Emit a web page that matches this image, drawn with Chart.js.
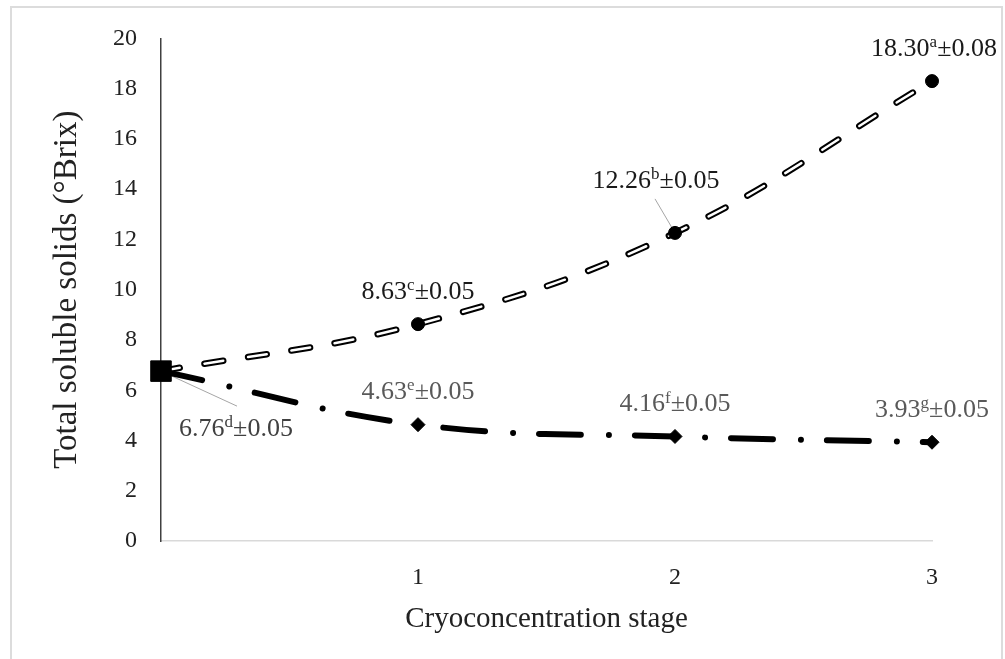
<!DOCTYPE html>
<html>
<head>
<meta charset="utf-8">
<title>Total soluble solids by cryoconcentration stage</title>
<script src="https://cdn.jsdelivr.net/npm/chart.js@4.4.1/dist/chart.umd.min.js"></script>
<style>
  html, body { margin: 0; padding: 0; background: #fff; }
  #wrap { width: 1005px; height: 659px; position: relative; }
</style>
</head>
<body>
<div id="wrap"><canvas id="chart"></canvas></div>
<script>
// Cryoconcentration stages (0 = initial juice)
const stages = [0, 1, 2, 3];
const stageTicks = [1, 2, 3];

// Total soluble solids (°Brix) of the concentrated fraction
const concentrate = [6.76, 8.63, 12.26, 18.30];
const concentrateSD = [0.05, 0.05, 0.05, 0.08];
const concentrateLetters = ['d', 'c', 'b', 'a'];

// Total soluble solids (°Brix) of the ice fraction
const ice = [6.76, 4.63, 4.16, 3.93];
const iceSD = [0.05, 0.05, 0.05, 0.05];
const iceLetters = ['d', 'e', 'f', 'g'];

const SERIF = '"Liberation Serif", "Times New Roman", serif';
const LABEL_SIZE = 26;
const SUP_SIZE = 17;

// label centre / baseline offsets from each point, in pixels
const concentrateLabelPos = [
  { dx: 75, dy: 65, leader: [76, 35] },
  { dx: 0, dy: -25 },
  { dx: -19, dy: -45, leader: [-20, -34] },
  { dx: 2, dy: -25 }
];
const iceLabelPos = [
  null,
  { dx: 0, dy: -26 },
  { dx: 0, dy: -25 },
  { dx: 0, dy: -25 }
];

const toPoints = arr => stages.map((s, i) => ({ x: s, y: arr[i] }));

function drawStatLabel(ctx, cx, baseline, value, letter, sd, color) {
  const main = value.toFixed(2);
  const tail = '\u00B1' + sd.toFixed(2);
  ctx.font = LABEL_SIZE + 'px ' + SERIF;
  const w1 = ctx.measureText(main).width;
  const w3 = ctx.measureText(tail).width;
  ctx.font = SUP_SIZE + 'px ' + SERIF;
  const w2 = ctx.measureText(letter).width;
  let x = cx - (w1 + w2 + w3) / 2;
  ctx.fillStyle = color;
  ctx.textAlign = 'left';
  ctx.textBaseline = 'alphabetic';
  ctx.font = LABEL_SIZE + 'px ' + SERIF;
  ctx.fillText(main, x, baseline);
  x += w1;
  ctx.font = SUP_SIZE + 'px ' + SERIF;
  ctx.fillText(letter, x, baseline - LABEL_SIZE * 0.34);
  x += w2;
  ctx.font = LABEL_SIZE + 'px ' + SERIF;
  ctx.fillText(tail, x, baseline);
}

const framePlugin = {
  id: 'frame',
  beforeDraw(chart) {
    const ctx = chart.ctx;
    ctx.save();
    ctx.fillStyle = '#fff';
    ctx.fillRect(0, 0, chart.width, chart.height);
    ctx.strokeStyle = '#dcdcdc';
    ctx.lineWidth = 2;
    ctx.beginPath();
    ctx.moveTo(11, chart.height);
    ctx.lineTo(11, 7);
    ctx.lineTo(1002, 7);
    ctx.lineTo(1002, chart.height);
    ctx.stroke();
    ctx.restore();
  }
};

const leaderPlugin = {
  id: 'leaders',
  beforeDatasetsDraw(chart) {
    const ctx = chart.ctx;
    const xs = chart.scales.x, ys = chart.scales.y;
    ctx.save();
    ctx.strokeStyle = '#a6a6a6';
    ctx.lineWidth = 1;
    concentrateLabelPos.forEach((p, i) => {
      if (!p || !p.leader) return;
      const px = xs.getPixelForValue(stages[i]);
      const py = ys.getPixelForValue(concentrate[i]);
      ctx.beginPath();
      ctx.moveTo(px, py);
      ctx.lineTo(px + p.leader[0], py + p.leader[1]);
      ctx.stroke();
    });
    ctx.restore();
  }
};

const statLabelPlugin = {
  id: 'statLabels',
  afterDatasetsDraw(chart) {
    const ctx = chart.ctx;
    const xs = chart.scales.x, ys = chart.scales.y;
    ctx.save();
    concentrate.forEach((v, i) => {
      const p = concentrateLabelPos[i];
      const px = xs.getPixelForValue(stages[i]);
      const py = ys.getPixelForValue(v);
      drawStatLabel(ctx, px + p.dx, py + p.dy, v, concentrateLetters[i], concentrateSD[i], i === 0 ? '#404040' : '#1a1a1a');
    });
    ice.forEach((v, i) => {
      const p = iceLabelPos[i];
      if (!p) return;
      const px = xs.getPixelForValue(stages[i]);
      const py = ys.getPixelForValue(v);
      drawStatLabel(ctx, px + p.dx, py + p.dy, v, iceLetters[i], iceSD[i], '#595959');
    });
    ctx.restore();
  }
};

new Chart(document.getElementById('chart'), {
  type: 'line',
  data: {
    datasets: [
      {
        // ice fraction: dash-dot line, square start, diamond markers
        data: toPoints(ice),
        borderColor: '#000',
        borderWidth: 6,
        borderDash: [42, 28, 0.01, 26],
        borderCapStyle: 'round',
        tension: 0.4,
        clip: false,
        order: 0,
        pointStyle: stages.map((s, i) => (i === 0 ? 'rect' : 'rectRot')),
        pointRadius: stages.map((s, i) => (i === 0 ? 14.5 : 7)),
        pointBackgroundColor: '#000',
        pointBorderColor: '#000',
        pointBorderWidth: 1
      },
      {
        // concentrate markers
        data: toPoints(concentrate),
        showLine: false,
        clip: false,
        order: 1,
        pointStyle: 'circle',
        pointRadius: stages.map((s, i) => (i === 0 ? 0 : 6.5)),
        pointBackgroundColor: '#000',
        pointBorderColor: '#000',
        pointBorderWidth: 1
      },
      {
        // concentrate line, inner white stroke of the double dash
        data: toPoints(concentrate),
        borderColor: '#fff',
        borderWidth: 2.5,
        borderDash: [19, 25],
        borderCapStyle: 'round',
        tension: 0.4,
        pointRadius: 0,
        clip: false,
        order: 2
      },
      {
        // concentrate line, outer black stroke of the double dash
        data: toPoints(concentrate),
        borderColor: '#000',
        borderWidth: 6.5,
        borderDash: [19, 25],
        borderCapStyle: 'round',
        tension: 0.4,
        pointRadius: 0,
        clip: false,
        order: 3
      }
    ]
  },
  options: {
    responsive: true,
    maintainAspectRatio: false,
    animation: false,
    events: [],
    layout: { padding: { left: 0, top: 36, right: 73, bottom: 0 } },
    plugins: { legend: { display: false }, tooltip: { enabled: false } },
    scales: {
      x: {
        type: 'linear',
        position: 'bottom',
        min: 0,
        max: 3,
        afterBuildTicks: s => { s.ticks = stageTicks.map(v => ({ value: v })); },
        afterFit: s => { s.height = 118; },
        ticks: {
          font: { family: SERIF, size: 24 },
          color: '#222',
          padding: 22,
          maxRotation: 0,
          autoSkip: false
        },
        grid: { display: false, drawTicks: false },
        border: { display: true, color: '#d9d9d9', width: 1.5 },
        title: {
          display: true,
          text: 'Cryoconcentration stage',
          font: { family: SERIF, size: 29 },
          color: '#222',
          padding: { top: 0, bottom: 22 }
        }
      },
      y: {
        type: 'linear',
        min: 0,
        max: 20,
        afterFit: s => { s.width = 161; },
        ticks: {
          stepSize: 2,
          font: { family: SERIF, size: 24 },
          color: '#222',
          padding: 24
        },
        grid: { display: false, drawTicks: false },
        border: { display: true, color: '#404040', width: 1.5 },
        title: {
          display: true,
          text: 'Total soluble solids (\u00B0Brix)',
          font: { family: SERIF, size: 33 },
          color: '#222',
          padding: { top: 48, bottom: 0 }
        }
      }
    }
  },
  plugins: [framePlugin, leaderPlugin, statLabelPlugin]
});
</script>
</body>
</html>
